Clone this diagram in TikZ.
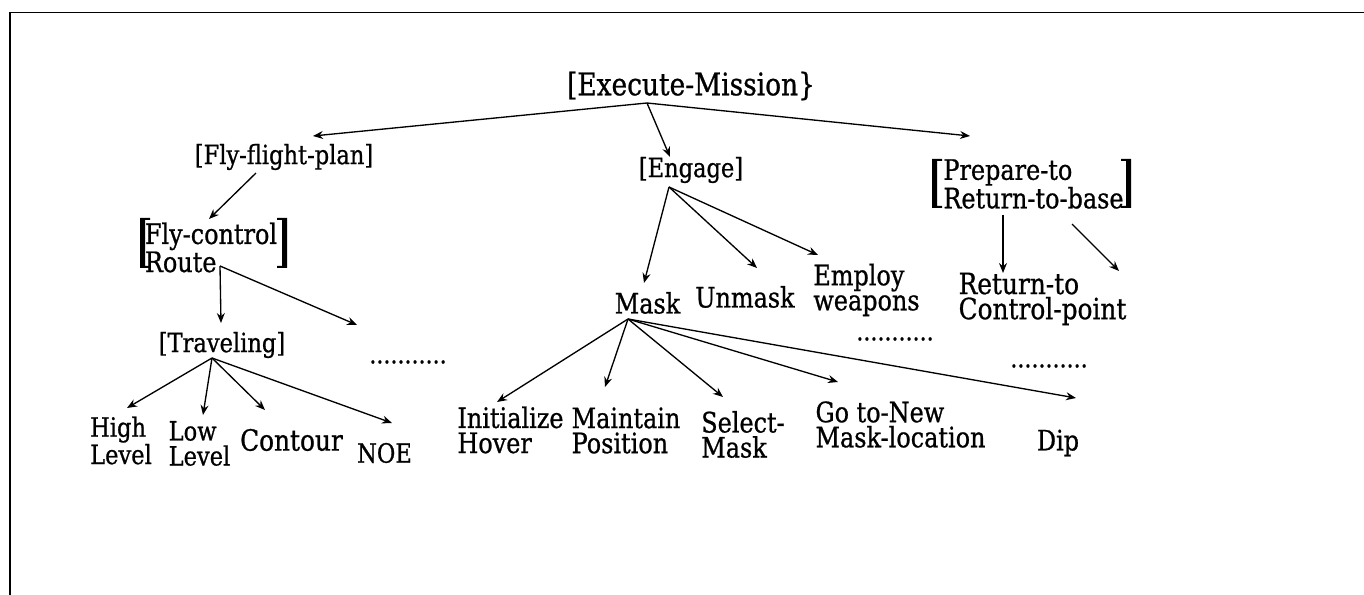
\documentclass[tikz,border=0pt]{standalone}
\usepackage{fontspec}
\setmainfont{DejaVu Serif}[FakeStretch=0.85,FakeBold=0.8]
\usetikzlibrary{arrows.meta,calc}

\tikzset{every picture/.style={line width=1pt}}
\tikzset{
  lbl/.style={inner sep=0pt, align=left, font=\fontsize{21.1}{18.8}\selectfont},
  lbls/.style={inner sep=0pt, align=left, font=\fontsize{19.9}{18.8}\selectfont},
  lblb/.style={inner sep=0pt, align=left, font=\fontsize{21.9}{18.8}\selectfont},
  rootlbl/.style={inner sep=0pt, font=\fontsize{23.3}{24}\selectfont},
  dotrow/.style={inner sep=0pt, font=\fontsize{19.5}{20}\selectfont},
  arr/.style={-{Stealth[length=7.5pt,width=6pt,inset=2.5pt]}},
  brk/.style={fill=black, draw=none},
}

\begin{document}
\begin{tikzpicture}[x=0.75pt,y=0.75pt,yscale=-1,xscale=1]
	\useasboundingbox (0,0) rectangle (1364,595);

	%Frame (top and left only)
	\draw [line width=1pt] (1364,12.5) -- (10,12.5) -- (10,595) ;

	% Text Nodes
	\node[rootlbl] (root) at (691,86) {[Execute-Mission\}};
	\node[lbls] (ffp) at (284,157) {[Fly-flight-plan]};
	\node[lbls] (engage) at (691,170) {[Engage]};
	\node[lbl] (prep) at (1033.5,184) {Prepare-to\\Return-to-base};
	\node[lbl] (fc) at (211,247.5) {Fly-control\\Route};
	\node[lbls] (trav) at (222,345) {[Traveling]};
	\node[lbls] (high) at (121,440.5) {High\\Level};
	\node[lbls] (low) at (199.5,443.5) {Low\\Level};
	\node[lblb] (contour) at (291.5,440) {Contour};
	\node[lbls] (noe) at (384.5,453) {NOE};
	\node[lbl] (mask) at (647.5,303) {Mask};
	\node[lbl] (unmask) at (745,297) {Unmask};
	\node[lbl] (employ) at (866.5,290) {Employ\\weapons};
	\node[lblb] (rtcp) at (1042.5,299) {Return-to\\Control-point};
	\node[lbl] (init) at (510.5,430) {Initialize\\Hover};
	\node[lbl] (maint) at (626,430.5) {Maintain\\Position};
	\node[lbl] (select) at (743,434.5) {Select-\\Mask};
	\node[lbl] (goto) at (900.5,424.5) {Go to-New\\Mask-location};
	\node[lbl] (dip) at (1058,443) {Dip};
	\node[dotrow] (dotsA) at (408,362) {...........};
	\node[dotrow] (dotsB) at (895,339) {...........};
	\node[dotrow] (dotsC) at (1049,366) {...........};

	%Brackets
	\fill[brk] (140,218) -- (150,218) -- (150,220) -- (145,220) -- (145,266) -- (150,266) -- (150,268) -- (140,268) -- cycle ;
	\fill[brk] (287,218) -- (277,218) -- (277,220) -- (282,220) -- (282,266) -- (277,266) -- (277,268) -- (287,268) -- cycle ;
	\fill[brk] (932,159) -- (942,159) -- (942,161) -- (937,161) -- (937,206) -- (942,206) -- (942,208) -- (932,208) -- cycle ;
	\fill[brk] (1131,159) -- (1121,159) -- (1121,161) -- (1126,161) -- (1126,206) -- (1121,206) -- (1121,208) -- (1131,208) -- cycle ;

	%Free ends
	\coordinate (fcfree) at (357,325);
	\coordinate (prepfree) at (1119,271);

	%Straight Lines
	\draw[arr] ($(root)+(-44,17)$) -- ($(ffp)+(29,-21)$) ;
	\draw[arr] ($(root)+(-44,17)$) -- ($(engage)+(-21,-13)$) ;
	\draw[arr] ($(root)+(-44,17)$) -- ($(prep)+(-63.5,-48)$) ;
	\draw[arr] ($(ffp)+(-28,16)$) -- ($(fc)+(-2,-28.5)$) ;
	\draw[arr] ($(fc)+(9,18.5)$) -- ($(trav)+(-1,-22)$) ;
	\draw[arr] ($(fc)+(9,18.5)$) -- (fcfree) ;
	\draw[arr] ($(trav)+(-10,13)$) -- ($(high)+(6,-32.5)$) ;
	\draw[arr] ($(trav)+(-10,13)$) -- ($(low)+(3.5,-28.5)$) ;
	\draw[arr] ($(trav)+(-10,13)$) -- ($(contour)+(-26.5,-30)$) ;
	\draw[arr] ($(trav)+(-10,13)$) -- ($(noe)+(7.5,-30)$) ;
	\draw[arr] ($(engage)+(-22,17)$) -- ($(mask)+(-3.5,-20)$) ;
	\draw[arr] ($(engage)+(-22,17)$) -- ($(unmask)+(12,-29)$) ;
	\draw[arr] ($(engage)+(-22,17)$) -- ($(employ)+(-48.5,-35)$) ;
	\draw[arr] ($(mask)+(-19.5,16)$) -- ($(init)+(-13.5,-28)$) ;
	\draw[arr] ($(mask)+(-19.5,16)$) -- ($(maint)+(-21,-43.5)$) ;
	\draw[arr] ($(mask)+(-19.5,16)$) -- ($(select)+(-20,-37.5)$) ;
	\draw[arr] ($(mask)+(-19.5,16)$) -- ($(goto)+(-62.5,-42.5)$) ;
	\draw[arr] ($(mask)+(-19.5,16)$) -- ($(dip)+(18,-45)$) ;
	\draw[arr] ($(prep)+(-30.5,31)$) -- ($(rtcp)+(-39.5,-26)$) ;
	\draw[arr] ($(prep)+(38.5,40)$) -- (prepfree) ;

\end{tikzpicture}
\end{document}
